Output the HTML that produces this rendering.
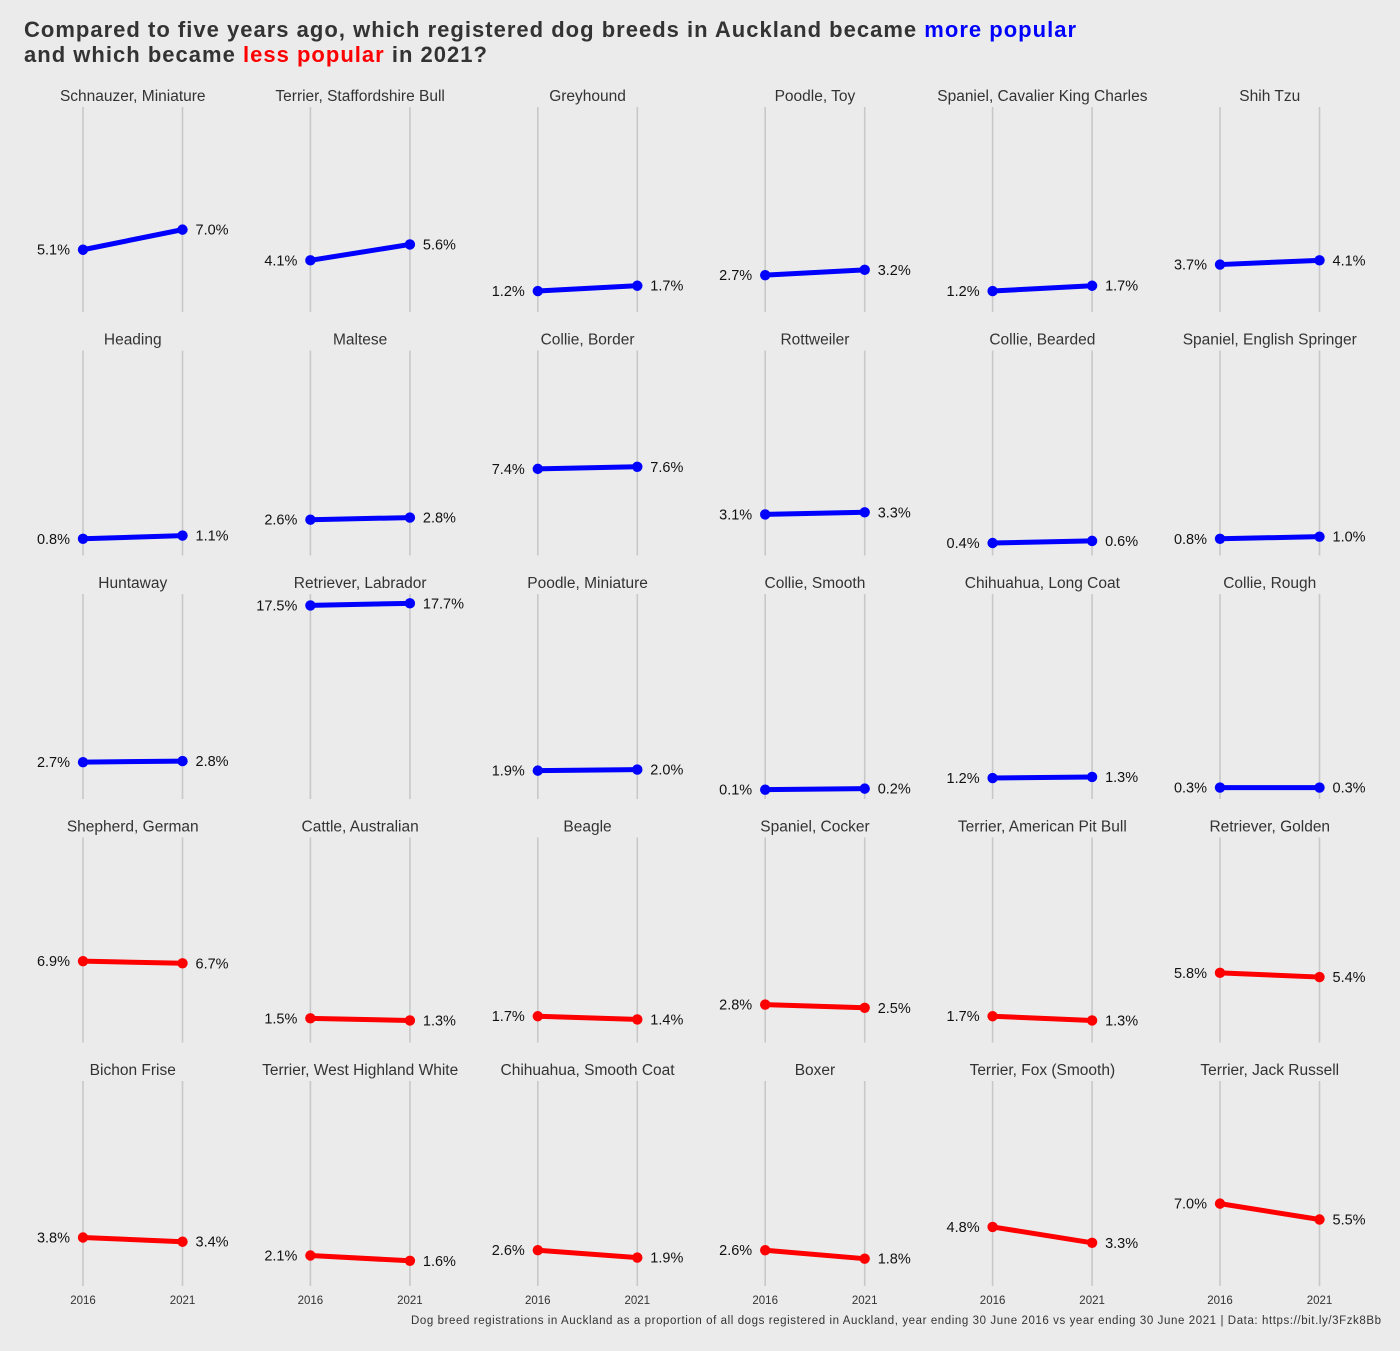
<!DOCTYPE html>
<html><head><meta charset="utf-8">
<style>
html,body{margin:0;padding:0;background:#ebebeb;}
body{width:1400px;height:1346px;overflow:hidden;font-family:"Liberation Sans",Arial,sans-serif;}
svg text{font-family:"Liberation Sans",Arial,sans-serif;}
</style></head>
<body>
<svg id="chart" width="1400" height="1346" xmlns="http://www.w3.org/2000/svg">
<rect width="1400" height="1346" fill="#ebebeb"/>
<text x="24" y="37" font-size="22" font-weight="bold" fill="#333" textLength="1052" lengthAdjust="spacing">Compared to five years ago, which registered dog breeds in Auckland became <tspan fill="#0000ff">more popular</tspan></text>
<text x="24" y="62" font-size="22" font-weight="bold" fill="#333" textLength="463" lengthAdjust="spacing">and which became <tspan fill="#ff0000">less popular</tspan> in 2021?</text>
<text x="411" y="1324" font-size="11.5" fill="#333" textLength="970" lengthAdjust="spacing">Dog breed registrations in Auckland as a proportion of all dogs registered in Auckland, year ending 30 June 2016 vs year ending 30 June 2021 | Data: https://bit.ly/3Fzk8Bb</text>
<g id="panels"></g>
</svg>
<script>
const breeds = ["Schnauzer, Miniature","Terrier, Staffordshire Bull","Greyhound","Poodle, Toy","Spaniel, Cavalier King Charles","Shih Tzu",
"Heading","Maltese","Collie, Border","Rottweiler","Collie, Bearded","Spaniel, English Springer",
"Huntaway","Retriever, Labrador","Poodle, Miniature","Collie, Smooth","Chihuahua, Long Coat","Collie, Rough",
"Shepherd, German","Cattle, Australian","Beagle","Spaniel, Cocker","Terrier, American Pit Bull","Retriever, Golden",
"Bichon Frise","Terrier, West Highland White","Chihuahua, Smooth Coat","Boxer","Terrier, Fox (Smooth)","Terrier, Jack Russell"];
const values2016 = [5.1,4.1,1.2,2.7,1.2,3.7, 0.8,2.6,7.4,3.1,0.4,0.8, 2.7,17.5,1.9,0.1,1.2,0.3, 6.9,1.5,1.7,2.8,1.7,5.8, 3.8,2.1,2.6,2.6,4.8,7.0];
const values2021 = [7.0,5.6,1.7,3.2,1.7,4.1, 1.1,2.8,7.6,3.3,0.6,1.0, 2.8,17.7,2.0,0.2,1.3,0.3, 6.7,1.3,1.4,2.5,1.3,5.4, 3.4,1.6,1.9,1.8,3.3,5.5];
const years = ["2016","2021"];

const NS="http://www.w3.org/2000/svg";
const g=document.getElementById('panels');
const all=values2016.concat(values2021);
const vmin=Math.min(...all), vmax=Math.max(...all), pad=(vmax-vmin)*0.05;
const lo=vmin-pad, hi=vmax+pad;
const panelH=205, rowTop0=107, rowStep=243.5, colX0=83, colStep=227.4, xGap=99.5;
function yScale(v,top){return top+panelH-(v-lo)/(hi-lo)*panelH;}
function xScale(i,col){return colX0+col*colStep+i*xGap;}
function mk(tag,attrs){const e=document.createElementNS(NS,tag);for(const k in attrs)e.setAttribute(k,attrs[k]);return e;}
breeds.forEach((b,i)=>{
  const col=i%6,row=Math.floor(i/6),top=rowTop0+row*rowStep;
  const grp=mk('g',{});
  
  
  const cx=(xScale(0,col)+xScale(1,col))/2;
  const t=mk('text',{x:cx,y:top-6,'font-size':15.5,fill:'#333','text-anchor':'middle'});
  
  
  t.textContent=b;grp.appendChild(t);
  for(let k=0;k<2;k++){
    const l=mk('line',{x1:xScale(k,col),x2:xScale(k,col),y1:top,y2:top+panelH,stroke:'#c8c8c8','stroke-width':1.6});
    
    
    grp.appendChild(l);
    if(row===4){
      const xt=mk('text',{x:xScale(k,col),y:top+panelH+18,'font-size':11.5,fill:'#333','text-anchor':'middle'});
      
      
      xt.textContent=years[k];grp.appendChild(xt);
    }
  }
  const v=[values2016[i],values2021[i]];
  const color=v[1]>=v[0]?'#0000ff':'#ff0000';
  const y0=yScale(v[0],top),y1=yScale(v[1],top),x0=xScale(0,col),x1=xScale(1,col);
  const ln=mk('line',{x1:x0,y1:y0,x2:x1,y2:y1,stroke:color,'stroke-width':5,'stroke-linecap':'round'});
  
  
  grp.appendChild(ln);
  [[x0,y0],[x1,y1]].forEach((p,k)=>{
    const c=mk('circle',{cx:p[0],cy:p[1],r:5.2,fill:color});
    
    
    grp.appendChild(c);
    const lb=mk('text',{x:k===0?p[0]-13:p[0]+13,y:p[1]+5,'font-size':14.5,fill:'#111','text-anchor':k===0?'end':'start'});
    
    
    lb.textContent=v[k].toFixed(1)+'%';grp.appendChild(lb);
  });
  g.appendChild(grp);
});
</script>
</body></html>
